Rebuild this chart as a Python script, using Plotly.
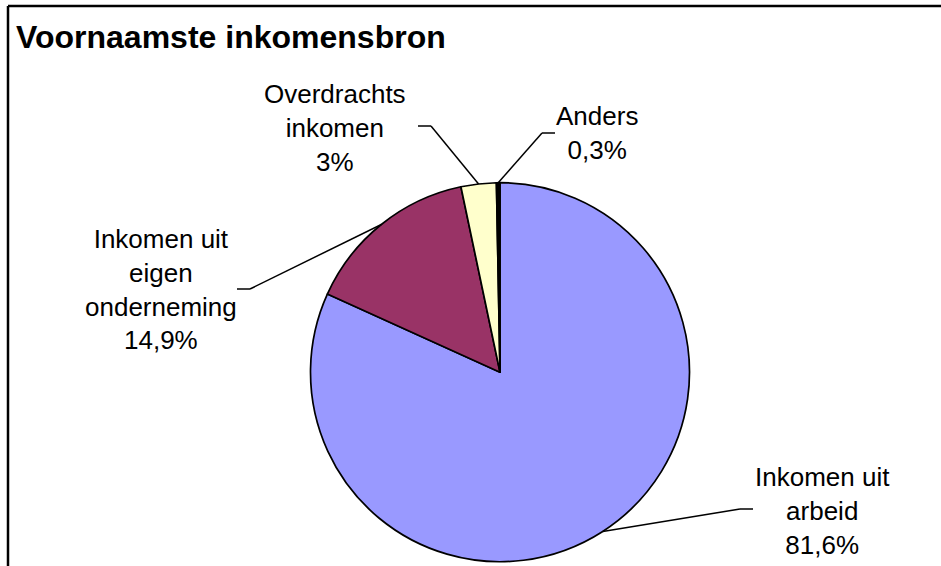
import math
import plotly.graph_objects as go

# ---- data ----
categories = ["Inkomen uit<br>arbeid", "Inkomen uit<br>eigen<br>onderneming",
              "Overdrachts<br>inkomen", "Anders"]
values = [81.6, 14.9, 3, 0.3]
colors = ["#9999FF", "#993366", "#FFFFCC", "#000000"]
title_text = "Voornaamste inkomensbron"

# ---- layout (pixel geometry) ----
W, H = 941, 566
cx, cy, R = 500, 372.2, 189.5
# label centre positions (px) and leader-line connection points at the labels
label_pos = [(822, 511), (161, 289), (335, 128), (597, 133)]
leader_end = [(753, 509), (237, 289), (418, 126), (555, 133)]
leader_elbow_len = 13

def px(x):
    return x / W

def py(y):
    return 1 - y / H

def fmt(v):
    s = ("%g" % v).replace(".", ",")
    return s + "%"

fig = go.Figure(go.Pie(
    values=values,
    labels=[c.replace("<br>", " ") for c in categories],
    sort=False,
    direction="clockwise",
    rotation=0,
    marker=dict(colors=colors, line=dict(color="#000000", width=1.7)),
    textinfo="none",
    hoverinfo="skip",
    showlegend=False,
    domain=dict(x=[px(cx - R), px(cx + R)], y=[py(cy + R), py(cy - R)]),
))

shapes = []
annotations = []
total = sum(values)
cum = 0.0
for i, v in enumerate(values):
    mid = (cum + v / 2) / total * 2 * math.pi
    cum += v
    ex = cx + R * math.sin(mid)
    ey = cy - R * math.cos(mid)
    lx, ly = leader_end[i]
    side = 1 if lx > ex else -1
    elx = lx - side * leader_elbow_len
    shapes.append(dict(type="line", xref="paper", yref="paper",
                       x0=px(ex), y0=py(ey), x1=px(elx), y1=py(ly),
                       line=dict(color="black", width=1.5)))
    shapes.append(dict(type="line", xref="paper", yref="paper",
                       x0=px(elx), y0=py(ly), x1=px(lx), y1=py(ly),
                       line=dict(color="black", width=1.5)))
    tx, ty = label_pos[i]
    annotations.append(dict(
        x=px(tx), y=py(ty), xref="paper", yref="paper",
        xanchor="center", yanchor="middle", showarrow=False, align="center",
        text=categories[i] + "<br>" + fmt(v),
        font=dict(family="Arial, Liberation Sans", size=26, color="black"),
    ))

annotations.append(dict(
    x=px(14), y=py(37), xref="paper", yref="paper",
    xanchor="left", yanchor="middle", showarrow=False,
    text="<b>" + title_text + "</b>",
    font=dict(family="Arial, Liberation Sans", size=32, color="black"),
))

# chart frame (top and left edges visible)
shapes.append(dict(type="line", xref="paper", yref="paper",
                   x0=px(8), y0=py(6), x1=1.0, y1=py(6),
                   line=dict(color="black", width=2.5)))
shapes.append(dict(type="line", xref="paper", yref="paper",
                   x0=px(8), y0=py(6), x1=px(8), y1=0,
                   line=dict(color="black", width=2.5)))

fig.update_layout(
    width=W, height=H,
    margin=dict(l=0, r=0, t=0, b=0),
    paper_bgcolor="white", plot_bgcolor="white",
    shapes=shapes, annotations=annotations,
)

fig.write_html("out.html", config={"displayModeBar": False},
               post_script="document.body.style.margin='0px';")
